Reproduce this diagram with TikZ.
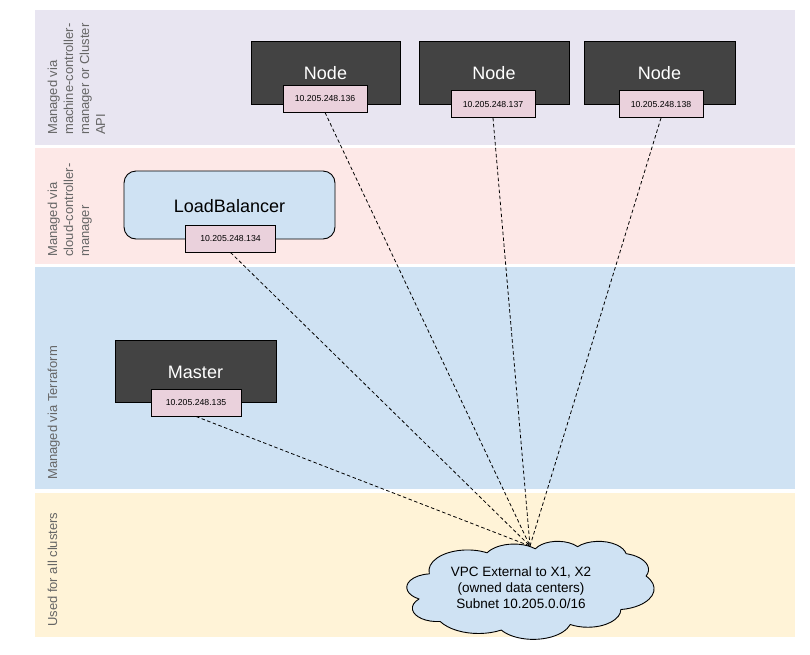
\documentclass[tikz,border=0pt]{standalone}
\usepackage{fontspec}
\setmainfont{Liberation Sans}
\definecolor{bandA}{HTML}{E8E5F1}
\definecolor{bandB}{HTML}{FDE8E7}
\definecolor{bandC}{HTML}{CFE2F3}
\definecolor{bandD}{HTML}{FFF3D7}
\definecolor{darkgr}{HTML}{434343}
\definecolor{ipfill}{HTML}{EAD1DC}
\definecolor{lbfill}{HTML}{CFE2F3}
\definecolor{labgray}{HTML}{666666}
\tikzset{
  bandlabel/.style={rotate=90, anchor=north west, inner sep=0pt, align=left, text=labgray,
    font=\fontsize{13}{16}\selectfont},
  darkbox/.style={draw=black, line width=0.9pt, fill=darkgr, inner sep=0pt},
  boxtext/.style={font=\fontsize{18}{20}\selectfont},
  ipbox/.style={draw=black, line width=0.9pt, fill=ipfill, inner sep=0pt,
    minimum width=84pt, minimum height=27pt, font=\fontsize{8.7}{10}\selectfont},
  link/.style={draw=black, line width=0.8pt, dash pattern=on 3.5pt off 2.5pt},
  cloudline/.style={draw=black, line width=0.9pt, fill=lbfill, line join=round},
}
\begin{document}
\begin{tikzpicture}[x=1pt, y=-1pt]
\useasboundingbox (0,0) rectangle (810,654);
% bands
\fill[bandA] (35,10) rectangle (795,145);
\fill[bandB] (35,148) rectangle (795,264);
\fill[bandC] (35,267) rectangle (795,489);
\fill[bandD] (35,493) rectangle (795,637);
% band labels
\node[bandlabel] (labA) at (47.5,135) {Managed via\\machine-controller-\\manager or Cluster\\API};
\node[bandlabel] (labB) at (47.5,257) {Managed via\\cloud-controller-\\manager};
\node[bandlabel] (labC) at (47.5,480) {Managed via Terraform};
\node[bandlabel] (labD) at (47.5,627) {Used for all clusters};
% worker nodes
\node[darkbox, minimum width=149pt, minimum height=63pt] (n1) at (325.5,72.5) {};
\node[boxtext, text=white] (n1t) at (325.5,73) {Node};
\node[ipbox] (ip1) at (325,98.5) {10.205.248.136};
\node[darkbox, minimum width=150pt, minimum height=63pt] (n2) at (494,72.5) {};
\node[boxtext, text=white] (n2t) at (494,73) {Node};
\node[ipbox] (ip2) at (493,104) {10.205.248.137};
\node[darkbox, minimum width=151pt, minimum height=63pt] (n3) at (659.5,72.5) {};
\node[boxtext, text=white] (n3t) at (659.5,73) {Node};
\node[ipbox] (ip3) at (661,104) {10.205.248.138};
% load balancer
\node[draw=black, line width=0.9pt, fill=lbfill, rounded corners=12pt, minimum width=211pt, minimum height=68pt] (lb) at (229.5,205) {};
\node[boxtext] (lbt) at (229.5,206) {LoadBalancer};
\node[ipbox, minimum width=90pt] (iplb) at (230.5,238.5) {10.205.248.134};
% master
\node[darkbox, minimum width=161pt, minimum height=62pt] (m) at (195.5,371) {};
\node[boxtext, text=white] (mt) at (195.5,372) {Master};
\node[ipbox, minimum width=90pt] (ipm) at (196,402.5) {10.205.248.135};
% cloud (OOXML cloud outline, scaled to 247 x 98)
\path[cloudline] (429.30,573.60)
  arc[x radius=38.61, y radius=20.85, start angle=-187.745, end angle=-59.636]
  arc[x radius=30.49, y radius=16.49, start angle=-152.02, end angle=-45.45]
  arc[x radius=24.96, y radius=13.49, start angle=-153.49, end angle=-37.33]
  arc[x radius=27.77, y radius=14.96, start angle=-139.71, end angle=-10.21]
  arc[x radius=30.49, y radius=16.50, start angle=-74.77, end angle=23.21]
  arc[x radius=38.74, y radius=20.92, start angle=-37.52, end angle=81.86]
  arc[x radius=33.08, y radius=17.85, start angle=0.46, end angle=121.98]
  arc[x radius=38.61, y radius=20.90, start angle=16.85, end angle=146.23]
  arc[x radius=44.14, y radius=23.92, start angle=58.98, end angle=150.20]
  arc[x radius=24.93, y radius=13.42, start angle=-276.69, end angle=-136.89]
  arc[x radius=24.84, y radius=13.49, start angle=-239.65, end angle=-95.89]
  -- cycle;
\node[align=center, font=\fontsize{13.5}{16}\selectfont] (vpct) at (521,588) {VPC External to X1, X2\\(owned data centers)\\Subnet 10.205.0.0/16};
\coordinate (hub) at (530,546);
% links
\draw[link] (ip1.south) -- (hub);
\draw[link] (ip2.south) -- (hub);
\draw[link] (ip3.south) -- (hub);
\draw[link] (iplb.south) -- (hub);
\draw[link] (ipm.south) -- (hub);
\end{tikzpicture}
\end{document}
